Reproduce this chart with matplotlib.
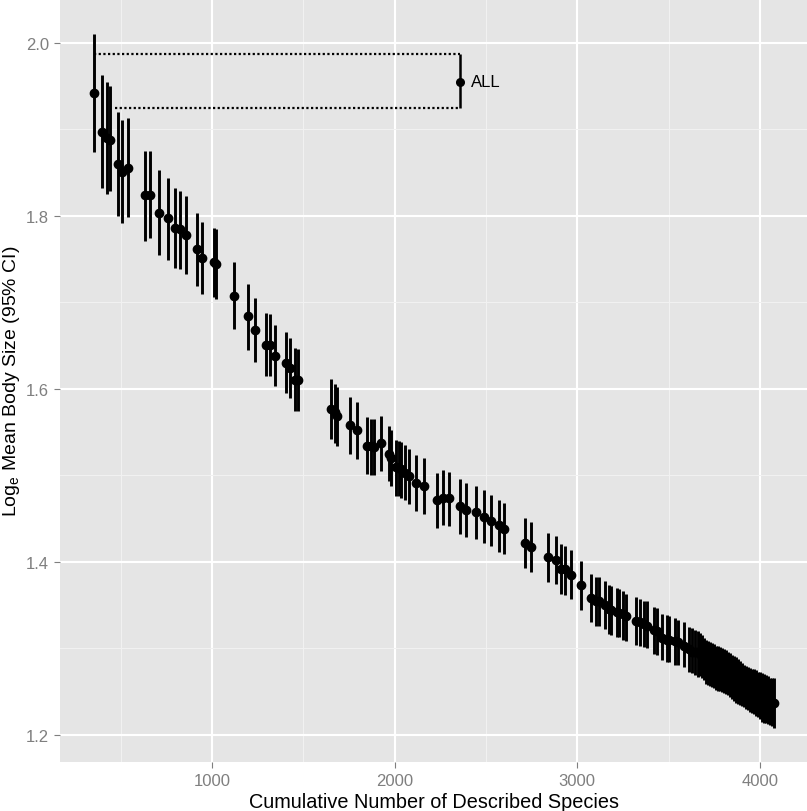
import matplotlib
matplotlib.use("Agg")
import matplotlib.pyplot as plt

plt.rcParams['font.family'] = ['Liberation Sans', 'DejaVu Sans']
plt.rcParams['mathtext.fontset'] = 'custom'
plt.rcParams['mathtext.rm'] = 'Liberation Sans'

# cumulative number of described species, mean log body size and 95% CI
species = [354, 398, 425, 442, 487, 509, 540,
           635, 659, 708, 759, 800, 827, 860,
           920, 944, 1010, 1022, 1119, 1199, 1234,
           1294, 1316, 1345, 1404, 1426, 1453, 1471,
           1654, 1672, 1687, 1758, 1796, 1847, 1869,
           1888, 1928, 1969, 1979, 2006, 2022, 2033,
           2055, 2077, 2115, 2161, 2232, 2265, 2298,
           2357, 2393, 2443, 2488, 2526, 2572, 2599,
           2712, 2744, 2837, 2882, 2913, 2933, 2966,
           3019, 3074, 3100, 3119, 3151, 3173, 3187,
           3215, 3229, 3251, 3269, 3320, 3342, 3364,
           3382, 3419, 3437, 3464, 3492, 3503, 3534,
           3549, 3583, 3611, 3629, 3644, 3662,
           3671, 3682, 3693, 3704, 3715, 3726, 3737, 3748, 3759, 3770,
           3781, 3792, 3803, 3814, 3825, 3836, 3846, 3857, 3868, 3879,
           3890, 3901, 3912, 3923, 3934, 3945, 3956, 3967, 3978, 3989,
           4000, 4011, 4022, 4033, 4044, 4055, 4066, 4077]

mean_size = [1.942, 1.897, 1.890, 1.887, 1.860, 1.850, 1.855,
             1.824, 1.824, 1.803, 1.797, 1.786, 1.784, 1.778,
             1.761, 1.751, 1.746, 1.744, 1.707, 1.684, 1.668,
             1.651, 1.651, 1.638, 1.630, 1.624, 1.610, 1.610,
             1.577, 1.573, 1.568, 1.558, 1.552, 1.534, 1.534,
             1.533, 1.537, 1.525, 1.520, 1.509, 1.508, 1.507,
             1.503, 1.499, 1.491, 1.487, 1.471, 1.474, 1.473,
             1.464, 1.460, 1.457, 1.452, 1.447, 1.442, 1.438,
             1.422, 1.417, 1.405, 1.402, 1.391, 1.391, 1.385,
             1.373, 1.358, 1.355, 1.354, 1.350, 1.345, 1.344,
             1.342, 1.341, 1.339, 1.337, 1.331, 1.330, 1.328,
             1.326, 1.321, 1.320, 1.312, 1.310, 1.309, 1.308,
             1.307, 1.303, 1.299, 1.296, 1.295, 1.296,
             1.293, 1.290, 1.287, 1.284, 1.282, 1.281, 1.280, 1.279, 1.278, 1.277,
             1.275, 1.274, 1.273, 1.272, 1.271, 1.269, 1.266, 1.265, 1.263, 1.261,
             1.259, 1.258, 1.257, 1.255, 1.253, 1.251, 1.250, 1.250, 1.248, 1.247,
             1.245, 1.243, 1.242, 1.241, 1.240, 1.239, 1.238, 1.237]

ci_hi = [2.010, 1.963, 1.955, 1.950, 1.920, 1.910, 1.913,
         1.875, 1.875, 1.853, 1.844, 1.832, 1.828, 1.823,
         1.803, 1.793, 1.786, 1.784, 1.746, 1.721, 1.705,
         1.688, 1.686, 1.674, 1.665, 1.659, 1.647, 1.646,
         1.611, 1.605, 1.602, 1.590, 1.585, 1.567, 1.565,
         1.565, 1.568, 1.557, 1.552, 1.541, 1.540, 1.538,
         1.535, 1.530, 1.523, 1.520, 1.503, 1.506, 1.504,
         1.495, 1.491, 1.488, 1.483, 1.477, 1.471, 1.468,
         1.451, 1.446, 1.433, 1.430, 1.420, 1.418, 1.413,
         1.401, 1.386, 1.382, 1.382, 1.378, 1.373, 1.372,
         1.370, 1.368, 1.366, 1.363, 1.359, 1.357, 1.354,
         1.354, 1.348, 1.346, 1.340, 1.338, 1.337, 1.335,
         1.333, 1.330, 1.325, 1.323, 1.321, 1.320,
         1.318, 1.315, 1.312, 1.309, 1.308, 1.307, 1.306, 1.305, 1.303, 1.302,
         1.301, 1.300, 1.299, 1.298, 1.296, 1.294, 1.292, 1.291, 1.290, 1.287,
         1.285, 1.283, 1.281, 1.279, 1.278, 1.277, 1.276, 1.276, 1.275, 1.273,
         1.272, 1.271, 1.270, 1.269, 1.268, 1.266, 1.266, 1.265]

ci_lo = [1.874, 1.832, 1.825, 1.828, 1.800, 1.791, 1.798,
         1.771, 1.774, 1.754, 1.749, 1.740, 1.738, 1.733,
         1.719, 1.709, 1.706, 1.704, 1.669, 1.645, 1.631,
         1.615, 1.615, 1.603, 1.595, 1.589, 1.574, 1.574,
         1.542, 1.537, 1.534, 1.525, 1.519, 1.501, 1.500,
         1.500, 1.505, 1.493, 1.487, 1.476, 1.476, 1.474,
         1.471, 1.467, 1.458, 1.455, 1.439, 1.442, 1.441,
         1.432, 1.429, 1.426, 1.422, 1.418, 1.411, 1.409,
         1.393, 1.388, 1.376, 1.374, 1.363, 1.362, 1.357,
         1.344, 1.330, 1.326, 1.326, 1.322, 1.316, 1.315,
         1.313, 1.313, 1.310, 1.308, 1.304, 1.302, 1.301,
         1.300, 1.293, 1.292, 1.286, 1.284, 1.284, 1.281,
         1.280, 1.278, 1.273, 1.271, 1.269, 1.267,
         1.268, 1.265, 1.263, 1.259, 1.257, 1.256, 1.255, 1.254, 1.252, 1.251,
         1.250, 1.249, 1.248, 1.247, 1.246, 1.243, 1.241, 1.239, 1.237, 1.235,
         1.234, 1.233, 1.232, 1.230, 1.228, 1.226, 1.225, 1.224, 1.222, 1.220,
         1.218, 1.215, 1.214, 1.213, 1.212, 1.211, 1.210, 1.208]

# pooled estimate over all species
all_x = 2360
all_mean = 1.955
all_lo = 1.924
all_hi = 1.987
ref_hi_start = 354
ref_lo_start = 467

fig = plt.figure(figsize=(8.07, 8.12), dpi=100)
ax = fig.add_axes([60 / 807, 49 / 812, 748 / 807, 763 / 812])
ax.set_facecolor('#E5E5E5')
for s in ax.spines.values():
    s.set_visible(False)

ax.set_xlim(168, 4263)
ax.set_ylim(1.1684, 2.0504)
ax.set_xticks([1000, 2000, 3000, 4000])
ax.set_yticks([1.2, 1.4, 1.6, 1.8, 2.0])
ax.set_yticklabels(['1.2', '1.4', '1.6', '1.8', '2.0'])
ax.set_xticks([500, 1500, 2500, 3500], minor=True)
ax.set_yticks([1.3, 1.5, 1.7, 1.9], minor=True)
ax.grid(True, which='major', color='white', linewidth=1.5)
ax.grid(True, which='minor', color='#F2F2F2', linewidth=0.7)
ax.set_axisbelow(True)
ax.tick_params(which='major', length=4, width=0.8, color='#7F7F7F',
               labelcolor='#7F7F7F', labelsize=12, pad=4)
ax.tick_params(which='minor', length=0)

# reference lines to the pooled estimate
ax.plot([ref_hi_start, all_x], [all_hi, all_hi], color='black',
        linewidth=1.6, linestyle=(0, (1, 1.1)))
ax.plot([ref_lo_start, all_x], [all_lo, all_lo], color='black',
        linewidth=1.6, linestyle=(0, (1, 1.1)))
ax.vlines([all_x], [all_lo], [all_hi], color='black', linewidth=1.8)
ax.plot([all_x], [all_mean], 'o', color='black', markersize=5.5)
ax.text(all_x + 60, all_mean, 'ALL', fontsize=12, va='center', ha='left')

ax.vlines(species, ci_lo, ci_hi, color='black', linewidth=2.1)
ax.plot(species, mean_size, 'o', color='black', markersize=6, linestyle='none')

ax.set_xlabel('Cumulative Number of Described Species', fontsize=14.3, labelpad=3)
ax.set_ylabel(r'Log$_{\mathrm{e}}$ Mean Body Size (95% CI)', fontsize=14, labelpad=3)

fig.savefig('out.png', dpi=100)
